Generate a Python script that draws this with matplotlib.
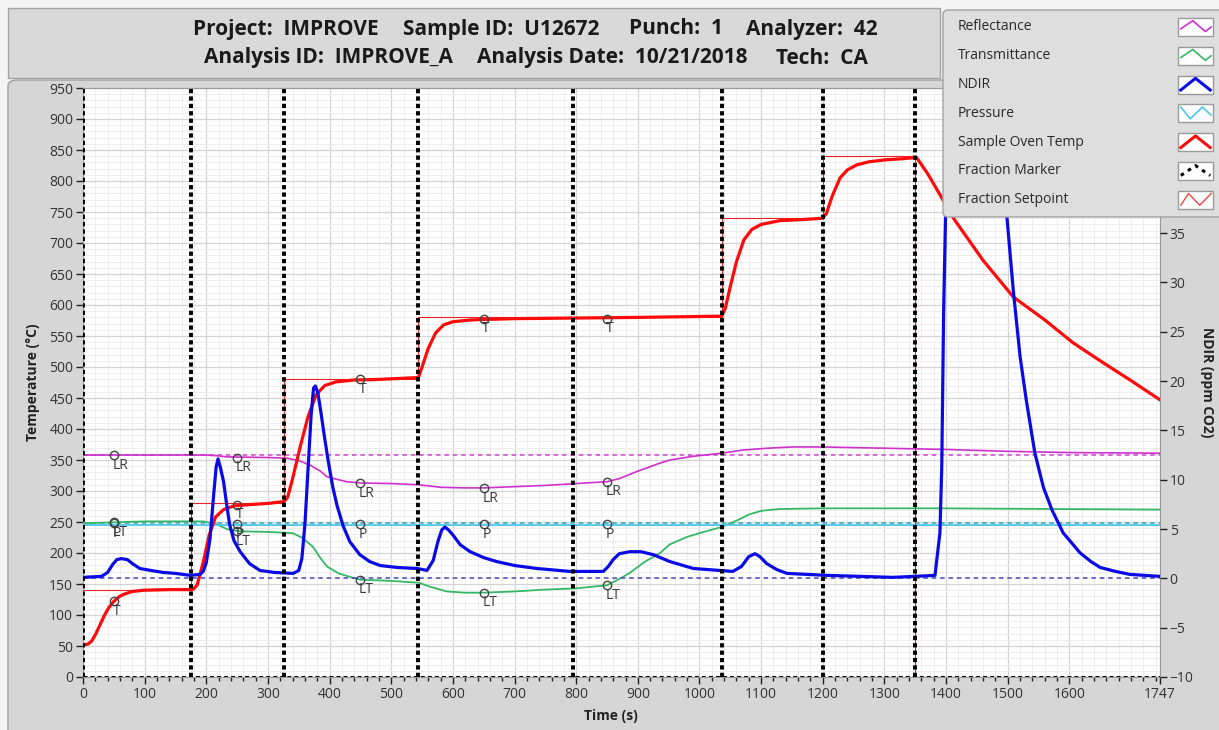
import matplotlib.pyplot as plt
from matplotlib.patches import Rectangle, FancyBboxPatch
from matplotlib.ticker import MultipleLocator, FixedLocator

plt.rcParams['font.family'] = ['Open Sans', 'DejaVu Sans']

# Sample oven temperature (deg C)
oven_t = [0, 8, 14, 20, 28, 35, 42, 50, 58, 65, 80, 100, 140, 178, 185, 195, 205, 215, 228,
          245, 270, 300, 326, 332, 340, 352, 365, 378, 392, 410, 440, 480, 544, 550, 560, 572,
          585, 600, 630, 700, 800, 900, 1036, 1042, 1050, 1060, 1072, 1085, 1100, 1130, 1170,
          1200, 1206, 1215, 1228, 1240, 1255, 1275, 1300, 1330, 1352, 1370, 1390, 1414, 1460,
          1509, 1560, 1606, 1650, 1700, 1747]
oven_temp = [52, 53, 58, 68, 85, 100, 112, 122, 129, 133, 138, 140, 141, 141, 148, 185, 230,
             258, 270, 276, 278, 280, 283, 290, 320, 370, 420, 455, 470, 476, 479, 480, 483,
             500, 530, 555, 568, 573, 576, 578, 579, 580, 582, 595, 630, 670, 705, 722, 730,
             736, 738, 740, 748, 775, 805, 818, 826, 831, 834, 836, 838, 812, 778, 737, 672,
             613, 576, 539, 510, 478, 447]

# Fraction setpoint and fraction markers
setpoint_t = [0, 175, 326, 544, 1036, 1200, 1350, 1747]
setpoint_val = [140, 280, 480, 580, 740, 840, 0, 0]
marker_t = [0, 175, 326, 544, 795, 1036, 1200, 1350]

# Laser reflectance (plotted on temperature scale)
refl_t = [0, 200, 215, 235, 300, 330, 350, 368, 385, 396, 415, 428, 450, 500, 545, 580, 620,
          650, 700, 750, 800, 850, 870, 900, 936, 952, 990, 1036, 1070, 1110, 1150, 1200, 1300,
          1400, 1500, 1600, 1747]
refl = [358, 358, 357, 355, 354, 353, 349, 342, 332, 323, 318, 315, 313, 312, 310, 306, 305,
        305, 307, 309, 312, 315, 320, 332, 345, 350, 356, 361, 366, 369, 371, 371, 369, 367,
        364, 362, 361]
refl_ref = 358

# Laser transmittance
trans_t = [0, 100, 195, 215, 235, 255, 300, 340, 355, 373, 385, 396, 415, 438, 450, 500, 545,
           565, 590, 620, 650, 700, 750, 800, 850, 870, 887, 910, 936, 952, 980, 1000, 1036,
           1060, 1080, 1100, 1130, 1200, 1400, 1747]
trans = [248, 251, 251, 247, 238, 235, 234, 232, 225, 210, 192, 178, 167, 160, 157, 155, 152,
         145, 138, 136, 136, 138, 141, 143, 148, 158, 168, 185, 200, 214, 226, 232, 242, 252,
         262, 268, 271, 272, 272, 270]

# Pressure
press_t = [0, 1747]
press = [245, 245]
press_ref = 248.5

# NDIR (ppm CO2)
ndir_t = [0, 30, 40, 48, 55, 62, 72, 80, 92, 110, 130, 150, 174, 190, 195, 200, 206, 212, 216,
          219, 223, 228, 233, 238, 245, 255, 270, 287, 310, 341, 350, 355, 360, 365, 370, 374,
          377, 381, 386, 392, 398, 405, 412, 422, 433, 449, 465, 482, 510, 542, 558, 568, 576,
          582, 587, 593, 600, 612, 628, 650, 671, 700, 736, 790, 844, 852, 860, 870, 887, 905,
          925, 952, 990, 1054, 1068, 1080, 1090, 1098, 1109, 1125, 1142, 1207, 1314, 1382,
          1390, 1393, 1396, 1399, 1405, 1440, 1480, 1499, 1509, 1520, 1530, 1544, 1558, 1572,
          1590, 1605, 1617, 1635, 1650, 1675, 1698, 1747]
ndir = [0.1, 0.2, 0.6, 1.4, 1.9, 2.0, 1.9, 1.5, 1.0, 0.8, 0.6, 0.5, 0.3, 0.4, 0.7, 1.6, 4.0,
        8.5, 11.3, 12.1, 11.2, 9.8, 7.5, 5.4, 3.8, 2.7, 1.5, 0.8, 0.6, 0.5, 0.8, 2.0, 5.5, 11.0,
        16.5, 19.3, 19.5, 18.8, 16.8, 14.2, 11.8, 9.3, 7.4, 5.3, 3.7, 2.4, 1.7, 1.3, 1.1, 1.0,
        0.8, 1.8, 3.8, 4.9, 5.2, 4.9, 4.4, 3.4, 2.7, 2.1, 1.7, 1.3, 1.0, 0.7, 0.7, 1.2, 1.9,
        2.5, 2.7, 2.7, 2.4, 1.7, 1.0, 0.7, 1.2, 2.2, 2.5, 2.2, 1.5, 0.9, 0.5, 0.3, 0.1, 0.3,
        4.6, 11.3, 26.9, 36.4, 55, 62, 52, 36.4, 29.2, 22.5, 18.1, 12.7, 9.2, 6.9, 4.6, 3.5,
        2.6, 1.7, 1.1, 0.7, 0.4, 0.2]
ndir_ref = 0

# Point labels
lbl_t = [50, 250, 450, 650, 850]
lbl_lr = [358, 354, 313, 305, 315]
lbl_temp = [122, 278, 480, 578, 578]
lbl_p = [248, 247, 247, 246, 246]
lbl_lt = [250, 235, 157, 136, 148]

legend_names = ['Reflectance', 'Transmittance', 'NDIR', 'Pressure', 'Sample Oven Temp',
                'Fraction Marker', 'Fraction Setpoint']

W, H = 1219, 730
fig = plt.figure(figsize=(W / 100, H / 100), dpi=100)
fig.patch.set_facecolor('#f4f4f4')

# background panels
fig.add_artist(Rectangle((8 / W, 1 - 78 / H), 932 / W, 70 / H, transform=fig.transFigure,
                         facecolor='#d9d9d9', edgecolor='#a4a4a4', lw=1, zorder=-2))
fig.add_artist(FancyBboxPatch((8 / W, -0.02), 1.1, 1 - 80 / H + 0.02,
                              boxstyle='round,pad=0,rounding_size=0.008',
                              transform=fig.transFigure, facecolor='#d6d6d6',
                              edgecolor='#a0a0a0', lw=1, zorder=-2))

ax = fig.add_axes([83 / W, 1 - 677 / H, (1160 - 83) / W, (677 - 88) / H])
ax.set_facecolor('white')
ax.set_xlim(0, 1747)
ax.set_ylim(0, 950)

ax.xaxis.set_major_locator(FixedLocator(list(range(0, 1700, 100)) + [1747]))
ax.xaxis.set_minor_locator(MultipleLocator(20))
ax.yaxis.set_major_locator(MultipleLocator(50))
ax.yaxis.set_minor_locator(MultipleLocator(10))
ax.grid(which='major', color='#d4d4d4', lw=0.9)
ax.grid(which='minor', color='#ededed', lw=0.7)
ax.set_axisbelow(True)
ax.tick_params(which='major', direction='out', length=5, width=1, colors='#222222',
               labelsize=10, labelcolor='#333333', pad=2)
ax.tick_params(which='minor', direction='out', length=3, width=1, colors='#222222')
ax.tick_params(axis='y', which='minor', length=0)
for s in ax.spines.values():
    s.set_color('#999999')
    s.set_linewidth(0.8)

# reference lines
ax.axhline(refl_ref, color='#cc44cc', lw=1.1, ls=(0, (3, 2.5)))
ax.axhline(press_ref, color='#33a6b8', lw=1.1, ls=(0, (3, 2.5)))

ax.plot(refl_t, refl, color='#d030d0', lw=1.2)
ax.plot(trans_t, trans, color='#33b865', lw=1.3)
ax.plot(press_t, press, color='#4cc6ee', lw=1.3)
ax.step(setpoint_t, setpoint_val, where='post', color='#ee2222', lw=0.8)
ax.plot(oven_t, oven_temp, color='#ff0a0a', lw=2.3)

for vals, name in [(lbl_lr, 'LR'), (lbl_temp, 'T'), (lbl_p, 'P'), (lbl_lt, 'LT')]:
    ax.plot(lbl_t, vals, 'o', ms=6, mfc='none', mec='#444444', mew=1.0, zorder=5)
    for t, v in zip(lbl_t, vals):
        ax.annotate(name, (t, v), xytext=(-1, -2), textcoords='offset points',
                    ha='left', va='top', fontsize=10, color='#3a3a3a', zorder=5)

ax.set_xlabel('Time (s)', fontsize=10, fontweight='bold', color='#222222', labelpad=1)
ax.xaxis.set_label_coords(0.49, -0.055)
ax.set_ylabel('Temperature (°C)', fontsize=10, fontweight='bold', color='#222222')
ax.yaxis.set_label_coords(-0.04, 0.5)

ax2 = ax.twinx()
ax2.set_ylim(-10, 49.7)
ax2.yaxis.set_major_locator(MultipleLocator(5))
ax2.tick_params(direction='out', length=5, width=1, colors='#222222', labelsize=10,
                labelcolor='#333333', pad=2)
for s in ax2.spines.values():
    s.set_visible(False)
ax2.axhline(ndir_ref, color='#4848b8', lw=1.1, ls=(0, (3, 2.5)))
ax2.plot(ndir_t, ndir, color='#0a0ae6', lw=2.3)

# fraction markers
ax2.vlines(marker_t, 0, 1, transform=ax2.get_xaxis_transform(), color='black', lw=2.8,
           linestyles=[(0, (1.1, 0.8))])
ax2.axhline(-10, color='black', lw=2.2, ls=(0, (1.3, 1.0)))
ax2.set_ylabel('NDIR (ppm CO2)', fontsize=10, fontweight='bold', color='#222222',
               rotation=270, labelpad=14)
ax2.yaxis.set_label_coords(1.05, 0.5)

# header and legend overlay
ov = fig.add_axes([0, 0, 1, 1], zorder=10)
ov.set_xlim(0, W)
ov.set_ylim(H, 0)
ov.axis('off')
ov.patch.set_alpha(0)

hdr = dict(fontsize=15, fontweight='bold', color='#1a1a1a', va='center', ha='left')
for x, y, s in [(193, 29, 'Project:  IMPROVE'), (403, 29, 'Sample ID:  U12672'),
                (629, 29, 'Punch:  1'), (746, 29, 'Analyzer:  42'),
                (204, 58, 'Analysis ID:  IMPROVE_A'), (477, 58, 'Analysis Date:  10/21/2018'),
                (776, 58, 'Tech:  CA')]:
    ov.text(x, y, s, **hdr)

ov.add_patch(FancyBboxPatch((943, 10), 300, 207, boxstyle='round,pad=0,rounding_size=5',
                            facecolor='#dedede', edgecolor='#a2a2a2', lw=1))
swatch = {
    'Reflectance': ([0.08, 0.42, 0.78, 0.95], [0.4, 0.85, 0.25, 0.5], '#d030d0', 1.2, '-'),
    'Transmittance': ([0.08, 0.42, 0.78, 0.95], [0.4, 0.85, 0.25, 0.5], '#33b865', 1.2, '-'),
    'NDIR': ([0.08, 0.5, 0.92], [0.2, 0.85, 0.2], '#0a0ae6', 2.2, '-'),
    'Pressure': ([0.08, 0.35, 0.7, 0.95], [0.85, 0.2, 0.85, 0.4], '#4cc6ee', 1.2, '-'),
    'Sample Oven Temp': ([0.08, 0.5, 0.92], [0.2, 0.85, 0.2], '#ff0a0a', 2.2, '-'),
    'Fraction Marker': ([0.08, 0.5, 0.92], [0.25, 0.8, 0.25], 'black', 2.2, (0, (1.2, 1.6))),
    'Fraction Setpoint': ([0.08, 0.3, 0.62, 0.95], [0.2, 0.85, 0.2, 0.85], '#ee4444', 1.0, '-'),
}
for i, name in enumerate(legend_names):
    yc = 27 + 28.8 * i
    ov.text(958, yc, name, fontsize=10, color='#2a2a2a', va='center', ha='left')
    bx, by, bw, bh = 1178, yc - 9, 35, 18
    ov.add_patch(Rectangle((bx, by), bw, bh, facecolor='white', edgecolor='#9a9a9a', lw=1))
    xs, ys, c, lw, ls = swatch[name]
    ov.plot([bx + x * bw for x in xs], [by + bh - y * bh for y in ys], color=c, lw=lw, ls=ls)

fig.savefig('out.png', dpi=100, facecolor=fig.get_facecolor())
